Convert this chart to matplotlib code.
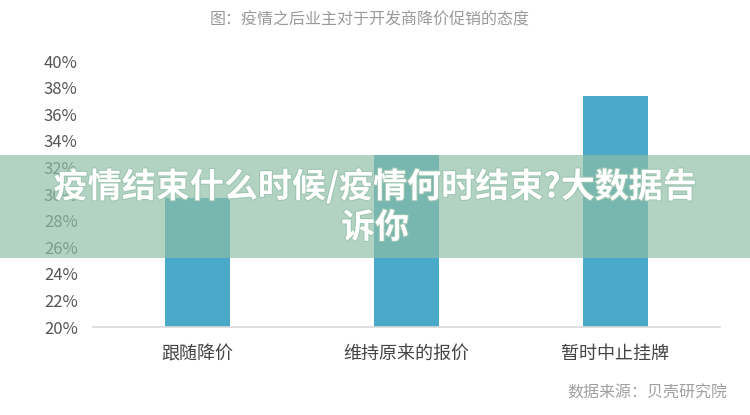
import matplotlib
matplotlib.use('Agg')
import matplotlib.pyplot as plt
import matplotlib.patheffects as pe
from matplotlib.patches import Rectangle

plt.rcParams['font.family'] = ['Noto Sans CJK SC', 'DejaVu Sans']

categories = ['跟随降价', '维持原来的报价', '暂时中止挂牌']
values = [29.7, 32.9, 37.4]
yticks = [20, 22, 24, 26, 28, 30, 32, 34, 36, 38, 40]
title = '图：疫情之后业主对于开发商降价促销的态度'
source = '数据来源：贝壳研究院'
banner = '疫情结束什么时候/疫情何时结束?大数据告\n诉你'


def main():
	fig = plt.figure(figsize=(7.5, 4.15), dpi=100)
	ax = fig.add_axes([0.124, 0.212, 0.836, 0.641])
	x = list(range(len(categories)))
	ax.bar(x, values, width=0.31, color='#4aa8c8', bottom=0)
	ax.set_xlim(-0.5, 2.5)
	ax.set_ylim(20, 40)
	ax.set_yticks(yticks)
	ax.set_yticklabels([f'{v}%' for v in yticks], fontsize=12, color='#555555')
	ax.set_xticks(x)
	ax.set_xticklabels(categories, fontsize=13, color='#444444', fontweight='light')
	ax.tick_params(axis='y', length=0, pad=11)
	ax.tick_params(axis='x', length=0, pad=13)
	for side in ['top', 'right', 'left']:
		ax.spines[side].set_visible(False)
	ax.spines['bottom'].set_color('#d9d9d9')
	ax.spines['bottom'].set_linewidth(1.2)

	fig.text(0.493, 0.953, title, ha='center', va='center', fontsize=11.5,
		color='#9a9a9a', fontweight='light')
	fig.text(0.97, 0.053, source, ha='right', va='center', fontsize=11.5,
		color='#a0a0a0', fontweight='light')

	# translucent green banner across the whole picture
	fig.patches.append(Rectangle((0, 0.378), 1, 0.248, transform=fig.transFigure,
		facecolor='#8fbfa5', alpha=0.68, edgecolor='none', zorder=5))
	t = fig.text(0.5, 0.502, banner, ha='center', va='center', fontsize=24.5,
		color='white', fontweight='bold', linespacing=1.2, zorder=6)
	t.set_path_effects([pe.withStroke(linewidth=1.5, foreground='#9cc5b0')])

	fig.savefig('out.png', dpi=100, facecolor='white')


if __name__ == '__main__':
	main()
